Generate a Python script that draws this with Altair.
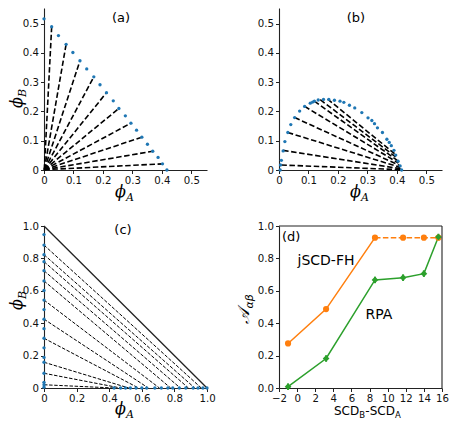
import altair as alt
import pandas as pd

BLUE = "#1f77b4"
ORANGE = "#ff7f0e"
GREEN = "#2ca02c"
W = 163
H = 162

# ---------------- panel (a) ----------------
a_phiA = [0.000, 0.026, 0.049, 0.075, 0.098, 0.122, 0.145, 0.169, 0.190, 0.212, 0.235,
          0.254, 0.276, 0.295, 0.314, 0.332, 0.351, 0.369, 0.387, 0.402, 0.417]
a_phiB = [0.516, 0.489, 0.459, 0.429, 0.401, 0.373, 0.345, 0.318, 0.291, 0.264, 0.236,
          0.210, 0.185, 0.160, 0.136, 0.112, 0.088, 0.064, 0.043, 0.021, 0.000]
a_tie_dilA = [0.001] * 10
a_tie_dilB = [0.001] * 10
a_tie_denA = [0.026, 0.075, 0.122, 0.169, 0.212, 0.254, 0.295, 0.332, 0.369, 0.402]
a_tie_denB = [0.489, 0.429, 0.373, 0.318, 0.264, 0.210, 0.160, 0.112, 0.064, 0.021]

# ---------------- panel (b) ----------------
b_phiA = [0.004, 0.005, 0.008, 0.014, 0.020, 0.030, 0.040, 0.053, 0.070, 0.087, 0.106, 0.114,
          0.120, 0.133, 0.151, 0.169, 0.188, 0.207, 0.220, 0.239, 0.257, 0.281, 0.302, 0.315,
          0.324, 0.334, 0.351, 0.366, 0.374, 0.381, 0.390, 0.396, 0.404, 0.411, 0.416]
b_phiB = [0.000, 0.017, 0.033, 0.065, 0.097, 0.128, 0.155, 0.179, 0.201, 0.217, 0.228, 0.232,
          0.235, 0.239, 0.241, 0.241, 0.238, 0.235, 0.231, 0.221, 0.212, 0.196, 0.178, 0.169,
          0.158, 0.144, 0.128, 0.105, 0.094, 0.083, 0.067, 0.051, 0.030, 0.014, 0.000]
b_tie_A1 = [0.008, 0.014, 0.030, 0.053, 0.087, 0.120, 0.140, 0.165]
b_tie_B1 = [0.017, 0.067, 0.128, 0.179, 0.217, 0.235, 0.240, 0.242]
b_tie_A2 = [0.416, 0.414, 0.411, 0.408, 0.405, 0.401, 0.397, 0.392]
b_tie_B2 = [0.001, 0.004, 0.009, 0.016, 0.024, 0.033, 0.044, 0.056]

# ---------------- panel (c) ----------------
c_left_B = [0.947, 0.882, 0.823, 0.780, 0.724, 0.661, 0.602, 0.543, 0.484, 0.425, 0.366,
            0.307, 0.248, 0.189, 0.159, 0.091, 0.035, 0.020, 0.005]
c_bottom_A = [0.43, 0.47, 0.50, 0.53, 0.565, 0.60, 0.63, 0.68, 0.72, 0.76, 0.79, 0.83,
              0.87, 0.915, 0.945, 0.975, 1.0]
c_tie_B = [0.882, 0.823, 0.780, 0.724, 0.661, 0.543, 0.425, 0.307, 0.159, 0.091, 0.020]
c_tie_A = [0.965, 0.925, 0.886, 0.836, 0.777, 0.708, 0.64, 0.58, 0.52, 0.47, 0.43]
c_tri_A = [0.0, 1.0]
c_tri_B = [1.0, 0.0]

# ---------------- panel (d) ----------------
d_x = [-1.0, 3.2, 8.6, 11.7, 14.0, 15.6]
d_fh = [0.275, 0.487, 0.928, 0.928, 0.928, 0.928]
d_rpa = [0.008, 0.182, 0.667, 0.681, 0.706, 0.932]
d_rpa_err = [0.02, 0.02, 0.02, 0.02, 0.02, 0.02]

FONT = "DejaVu Sans"


def axis(values, expr=None, fmt=None):
    kw = dict(values=values, title=None, grid=False, labelFlush=False, labelOverlap=False,
              tickSize=3.5, labelFontSize=10.2, labelFont=FONT, labelColor="#111",
              domainColor="#222", tickColor="#222", labelPadding=2, domainWidth=1.1)
    if expr:
        kw["labelExpr"] = expr
    if fmt:
        kw["format"] = fmt
    return alt.Axis(**kw)


ZERO_EXPR = "datum.value == 0 ? '0' : format(datum.value, '.1f')"
one = pd.DataFrame({"k": [0]})


def txt(text, x, y, size=13, align="center", baseline="middle", angle=0, dx=0, dy=0,
        font=FONT, style="normal"):
    return alt.Chart(one).mark_text(text=text, align=align, baseline=baseline, fontSize=size,
                                    font=font, fontStyle=style, angle=angle, dx=dx, dy=dy,
                                    color="black").encode(x=alt.value(x), y=alt.value(y))


def sublabel(main, sub, x, y, angle=0, size=16, subsize=11, font="DejaVu Serif"):
    return [
        txt(main, x, y, size=size, align="right", baseline="alphabetic", angle=angle,
            font=font, style="italic"),
        txt(sub, x, y, size=subsize, align="left", baseline="alphabetic", angle=angle,
            dy=4, font=font, style="italic"),
    ]


def phase_panel(pA, pB, tA1, tB1, tA2, tB2, tag, ylab, dash):
    xs = alt.Scale(domain=[0, 0.553], nice=False, zero=False)
    ys = alt.Scale(domain=[0, 0.553], nice=False, zero=False)
    ticks = [0, 0.1, 0.2, 0.3, 0.4, 0.5]
    ax = axis(ticks, expr=ZERO_EXPR)
    ties = pd.DataFrame({"x1": tA1, "y1": tB1, "x2": tA2, "y2": tB2})
    pts = pd.DataFrame({"a": pA, "b": pB})
    tie = alt.Chart(ties).mark_rule(color="black", strokeWidth=1.6, strokeDash=dash).encode(
        x=alt.X("x1:Q", scale=xs, axis=ax),
        y=alt.Y("y1:Q", scale=ys, axis=ax),
        x2="x2:Q", y2="y2:Q")
    dots = alt.Chart(pts).mark_circle(color=BLUE, size=11, opacity=1).encode(
        x=alt.X("a:Q", scale=xs, axis=ax), y=alt.Y("b:Q", scale=ys, axis=ax))
    layers = [tie, dots, txt(tag, 77, 10)]
    layers += sublabel("ϕ", "A", 82, H + 26.5)
    if ylab:
        layers += sublabel("ϕ", "B", -22.5, 89, angle=270)
    return alt.layer(*layers).properties(width=W, height=H)


pa = phase_panel(a_phiA, a_phiB, a_tie_dilA, a_tie_dilB, a_tie_denA, a_tie_denB,
                 "(a)", True, [5.5, 2.6])
pb = phase_panel(b_phiA, b_phiB, b_tie_A1, b_tie_B1, b_tie_A2, b_tie_B2,
                 "(b)", False, [5.5, 2.6])

# panel (c)
cxs = alt.Scale(domain=[0, 1], nice=False)
cys = alt.Scale(domain=[0, 1], nice=False)
cax = axis([0, 0.2, 0.4, 0.6, 0.8, 1.0], expr=ZERO_EXPR)
c_ties = pd.DataFrame({"x1": [0.0] * len(c_tie_B), "y1": c_tie_B,
                       "x2": c_tie_A, "y2": [0.0] * len(c_tie_A)})
c_tri = pd.DataFrame({"x1": [c_tri_A[0]], "y1": [c_tri_B[0]], "x2": [c_tri_A[1]], "y2": [c_tri_B[1]]})
c_pts = pd.DataFrame({"a": [0.0] * len(c_left_B) + c_bottom_A,
                      "b": c_left_B + [0.0] * len(c_bottom_A)})
c_tie = alt.Chart(c_ties).mark_rule(color="black", strokeWidth=1, strokeDash=[3.5, 1.6]).encode(
    x=alt.X("x1:Q", scale=cxs, axis=cax),
    y=alt.Y("y1:Q", scale=cys, axis=cax),
    x2="x2:Q", y2="y2:Q")
c_tri_l = alt.Chart(c_tri).mark_rule(color="#222", strokeWidth=1.3).encode(
    x=alt.X("x1:Q", scale=cxs, axis=cax), y=alt.Y("y1:Q", scale=cys, axis=cax),
    x2="x2:Q", y2="y2:Q")
c_dots = alt.Chart(c_pts).mark_circle(color=BLUE, size=11, opacity=1).encode(
    x=alt.X("a:Q", scale=cxs, axis=cax), y=alt.Y("b:Q", scale=cys, axis=cax))
pc = alt.layer(c_tie, c_tri_l, c_dots, txt("(c)", 79, 4),
               *sublabel("ϕ", "A", 82, H + 25.5),
               *sublabel("ϕ", "B", -22.5, 73, angle=270)).properties(width=W, height=H)

# panel (d)
dxs = alt.Scale(domain=[-2, 16], nice=False, zero=False)
dys = alt.Scale(domain=[0, 1], nice=False)
dxax = axis(list(range(-2, 17, 2)), fmt="d")
dyax = axis([0, 0.2, 0.4, 0.6, 0.8, 1.0], fmt=".1f")
fh = pd.DataFrame({"x": d_x, "y": d_fh})
fh_solid = fh.iloc[:3]
fh_dash = fh.iloc[2:]
rpa = pd.DataFrame({"x": d_x, "y": d_rpa,
                    "lo": [v - e for v, e in zip(d_rpa, d_rpa_err)],
                    "hi": [v + e for v, e in zip(d_rpa, d_rpa_err)]})
X = alt.X("x:Q", scale=dxs, axis=dxax)
Y = alt.Y("y:Q", scale=dys, axis=dyax)
l_fh1 = alt.Chart(fh_solid).mark_line(color=ORANGE, strokeWidth=1.5).encode(x=X, y=Y)
l_fh2 = alt.Chart(fh_dash).mark_line(color=ORANGE, strokeWidth=1.5, strokeDash=[5.5, 2.4]).encode(x=X, y=Y)
p_fh = alt.Chart(fh).mark_point(color=ORANGE, filled=True, size=38, opacity=1).encode(x=X, y=Y)
l_rpa = alt.Chart(rpa).mark_line(color=GREEN, strokeWidth=1.5).encode(x=X, y=Y)
e_rpa = alt.Chart(rpa).mark_rule(color=GREEN, strokeWidth=2).encode(
    x=X, y=alt.Y("lo:Q", scale=dys, axis=dyax), y2="hi:Q")
p_rpa = alt.Chart(rpa).mark_point(color=GREEN, filled=True, shape="diamond", size=45,
                                  opacity=1).encode(x=X, y=Y)
box_top = alt.Chart(one).mark_rule(color="#222", strokeWidth=1.1).encode(
    x=alt.value(0), x2=alt.value(W), y=alt.value(0))
box_right = alt.Chart(one).mark_rule(color="#222", strokeWidth=1.1).encode(
    x=alt.value(W), y=alt.value(0), y2=alt.value(H))

sx = 55
sy = H + 27
d_title = [
    txt("SCD", sx, sy, size=12, align="left", baseline="alphabetic"),
    txt("B", sx, sy, size=8.5, align="left", baseline="alphabetic", dx=25.3, dy=3),
    txt("-SCD", sx, sy, size=12, align="left", baseline="alphabetic", dx=31.3),
    txt("A", sx, sy, size=8.5, align="left", baseline="alphabetic", dx=61.0, dy=3),
]
pd_ = alt.layer(l_fh1, l_fh2, l_rpa, e_rpa, p_fh, p_rpa, box_top, box_right,
                txt("(d)", 3, 11, size=13, align="left"),
                txt("jSCD-FH", 47, 35, size=14),
                txt("RPA", 100, 89, size=14),
                *sublabel("𝒜", "αβ", -30.5, 82.5, angle=270, font="DejaVu Sans"),
                *d_title).properties(width=W, height=H)

chart = alt.concat(pa, pb, pc, pd_, columns=2, bounds="flush",
                   spacing=alt.RowColnumber(row=56, column=72)).properties(
    padding=0, background="white"
).configure_view(stroke=None)

chart.save("out.html", embed_options={"renderer": "svg", "actions": False})
